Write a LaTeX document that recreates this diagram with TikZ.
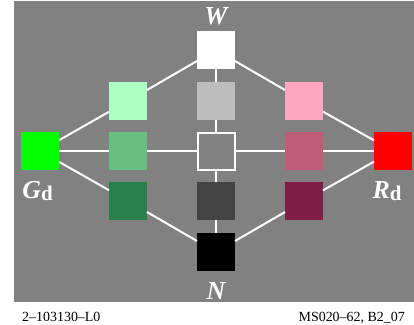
\documentclass[tikz,border=0pt]{standalone}
\usepackage{fontspec}
\setmainfont{Liberation Serif}
\definecolor{bggray}{RGB}{128,129,128}
\definecolor{lgreen}{RGB}{173,255,194}
\definecolor{mgreen}{RGB}{102,191,128}
\definecolor{dgreen}{RGB}{39,128,74}
\definecolor{lgray}{RGB}{189,189,189}
\definecolor{dgray}{RGB}{66,67,66}
\definecolor{lpink}{RGB}{255,166,194}
\definecolor{mpink}{RGB}{191,92,122}
\definecolor{dpink}{RGB}{128,31,69}
\begin{document}
\begin{tikzpicture}[x=1bp,y=-1bp,
  sq/.style={minimum size=38bp, inner sep=0pt, outer sep=0pt, draw=none},
  ln/.style={white, line width=2bp},
  big/.style={text=white, font=\fontsize{26}{26}\selectfont\bfseries\itshape, inner sep=0pt, anchor=base},
  foot/.style={text=black, font=\fontsize{14}{14}\selectfont, inner sep=0pt, anchor=base}]
\useasboundingbox (0,0) rectangle (414,325);
\fill[bggray] (14,1) rectangle (414,302);
\node[sq, fill=white] (W) at (216,50) {};
\node[sq, fill=lgreen] (lg) at (128,101) {};
\node[sq, fill=lgray] (lgr) at (216,101) {};
\node[sq, fill=lpink] (lp) at (304,101) {};
\node[sq, fill=green] (Gd) at (40,151) {};
\node[sq, fill=mgreen] (mg) at (128,151) {};
\node[sq, minimum size=37bp, draw=white, line width=2bp] (C) at (216,151) {};
\node[sq, fill=mpink] (mp) at (304,151) {};
\node[sq, fill=red] (Rd) at (393,151) {};
\node[sq, fill=dgreen] (dg) at (128,201) {};
\node[sq, fill=dgray] (dgr) at (216,201) {};
\node[sq, fill=dpink] (dp) at (304,201) {};
\node[sq, fill=black] (N) at (216,252) {};
\draw[ln] (W) -- (lg) (lg) -- (Gd);
\draw[ln] (W) -- (lgr) (lgr) -- (C) (C) -- (dgr) (dgr) -- (N);
\draw[ln] (W) -- (lp) (lp) -- (Rd);
\draw[ln] (Gd) -- (mg) (mg) -- (C) (C) -- (mp) (mp) -- (Rd);
\draw[ln] (Gd) -- (dg) (dg) -- (N);
\draw[ln] (Rd) -- (dp) (dp) -- (N);
\node[big] (lW) at (216,24) {W};
\node[big] (lN) at (216,299) {N};
\node[big] (lG) at (37.5,198) {G\raisebox{-2bp}{\upshape\fontsize{21}{21}\selectfont d}};
\node[big] (lR) at (387,198) {R\raisebox{-2bp}{\upshape\fontsize{21}{21}\selectfont d}};
\node[foot, anchor=base west] (f1) at (22,321) {2–103130–L0};
\node[foot, anchor=base east] (f2) at (405,321) {MS020–62, B2\_07};
\end{tikzpicture}
\end{document}
